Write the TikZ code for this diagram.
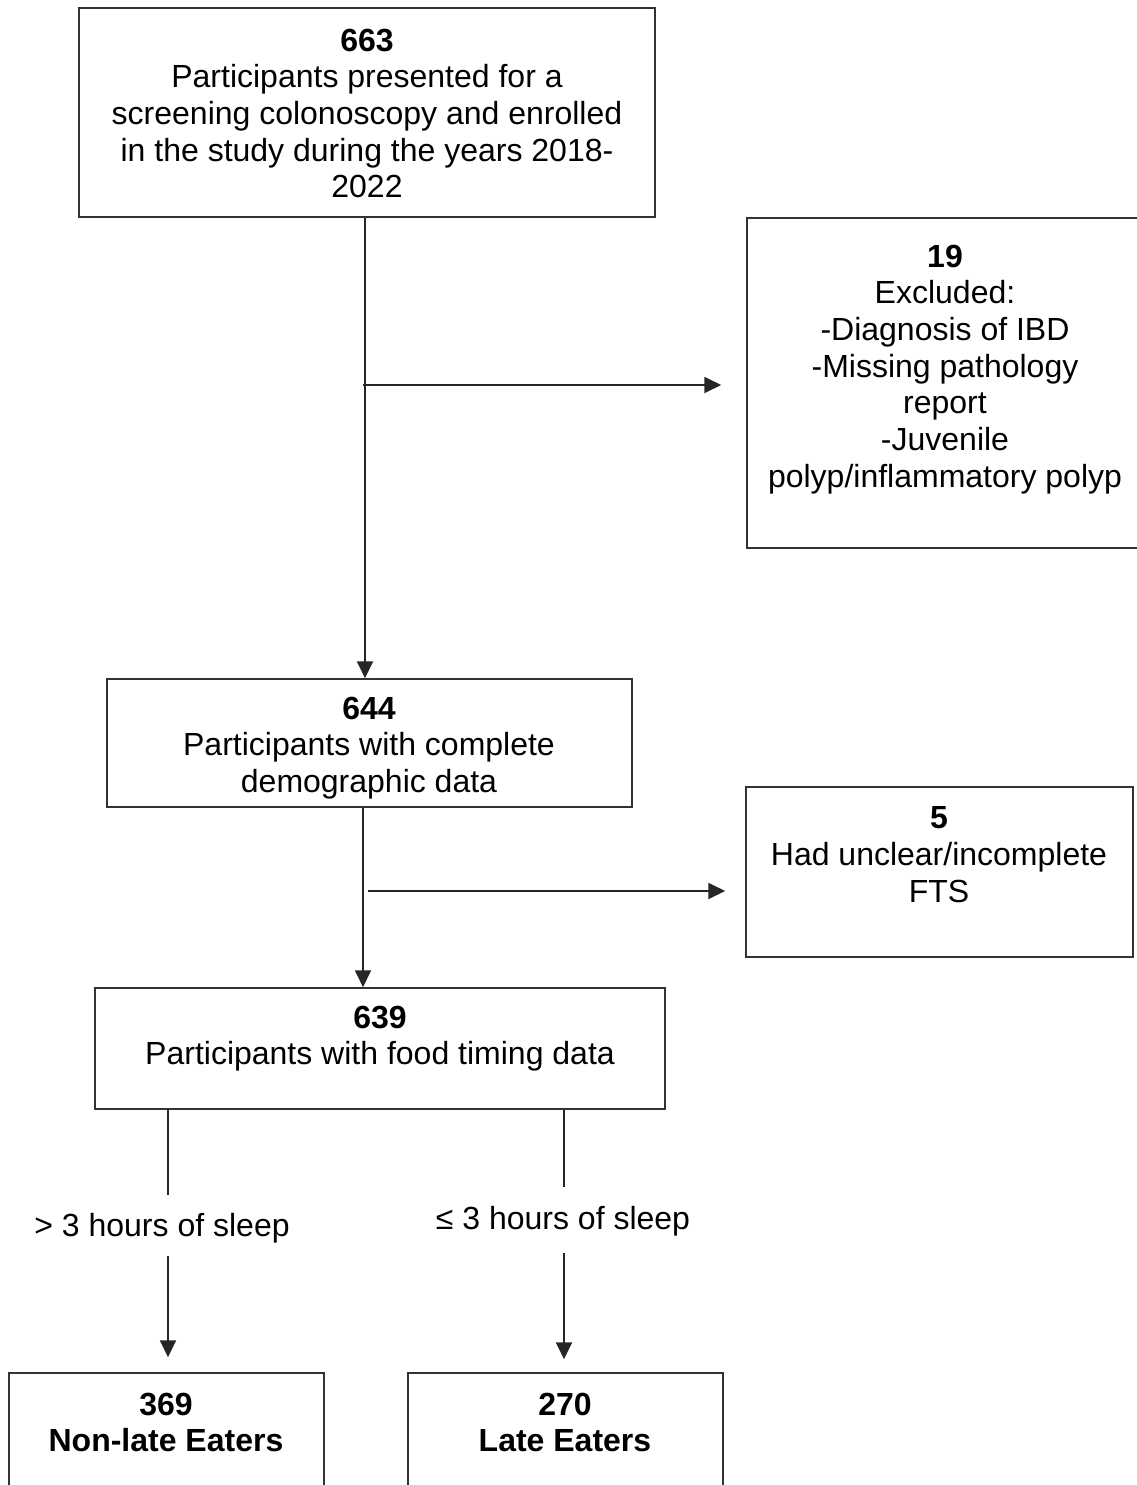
\documentclass[tikz,border=0pt]{standalone}
\usepackage{fontspec}
\setmainfont{Liberation Sans}
\usetikzlibrary{arrows.meta}
\begin{document}
\begin{tikzpicture}[x=1pt,y=-1pt,
  boxnode/.style={draw=black!80,line width=1.5pt,rectangle,inner sep=0pt},
  txt/.style={align=center,inner sep=0pt,anchor=north,font=\fontsize{32}{36.7}\selectfont},
  lbl/.style={inner sep=0pt,font=\fontsize{32}{36.7}\selectfont},
  conn/.style={line width=1.8pt,black!85},
  arr/.style={conn,-{Triangle[length=17pt,width=16pt,scale=1]}}]
\useasboundingbox (0,0) rectangle (1137,1485);
\fill[white] (0,0) rectangle (1137,1485);
% boxes
\node[boxnode,minimum width=576,minimum height=209] (b1) at (367,112.5) {};
\node[boxnode,minimum width=393,minimum height=330] (b19) at (943.5,383) {};
\node[boxnode,minimum width=525,minimum height=128] (b644) at (369.5,743) {};
\node[boxnode,minimum width=387,minimum height=170] (b5) at (939.5,872) {};
\node[boxnode,minimum width=570,minimum height=121] (b639) at (380,1048.5) {};
\node[boxnode,minimum width=315,minimum height=122] (b369) at (166.5,1434) {};
\node[boxnode,minimum width=315,minimum height=122] (b270) at (565.5,1434) {};
% texts
\node[txt] (t1) at (367,28.5) {\textbf{663}\\Participants presented for a\\screening colonoscopy and enrolled\\in the study during the years 2018-\\2022};
\node[txt] (t19) at (945,244.5) {\textbf{19}\\Excluded:\\-Diagnosis of IBD\\-Missing pathology\\report\\-Juvenile\\polyp/inflammatory polyp};
\node[txt] (t644) at (369,696.5) {\textbf{644}\\Participants with complete\\demographic data};
\node[txt] (t5) at (939,806.5) {\textbf{5}\\Had unclear/incomplete\\FTS};
\node[txt] (t639) at (380,1005.5) {\textbf{639}\\Participants with food timing data};
\node[txt] (t369) at (166,1392.5) {\textbf{369}\\\textbf{Non-late Eaters}};
\node[txt] (t270) at (565,1392.5) {\textbf{270}\\\textbf{Late Eaters}};
% labels
\node[lbl] (l1) at (162,1228) {> 3 hours of sleep};
\node[lbl] (l2) at (563,1221) {≤ 3 hours of sleep};
% connector coordinates
\coordinate (j1) at (365,385);
\coordinate (j1b) at (363,385);
\coordinate (j2) at (363,891);
\coordinate (j2b) at (368,891);
\coordinate (c1a) at (168,1195);
\coordinate (c1b) at (168,1256);
\coordinate (c2a) at (564,1187);
\coordinate (c2b) at (564,1253);
% connectors
\draw[arr] (b1.south -| j1) -- (b644.north -| j1);
\draw[arr,shorten >=25pt] (j1b) -- (b19.west |- j1b);
\draw[arr] (b644.south -| j2) -- (b639.north -| j2);
\draw[arr,shorten >=20pt] (j2b) -- (b5.west |- j2b);
\draw[conn] (b639.south -| c1a) -- (c1a);
\draw[arr,shorten >=15pt] (c1b) -- (b369.north -| c1b);
\draw[conn] (b639.south -| c2a) -- (c2a);
\draw[arr,shorten >=13pt] (c2b) -- (b270.north -| c2b);
\end{tikzpicture}
\end{document}
